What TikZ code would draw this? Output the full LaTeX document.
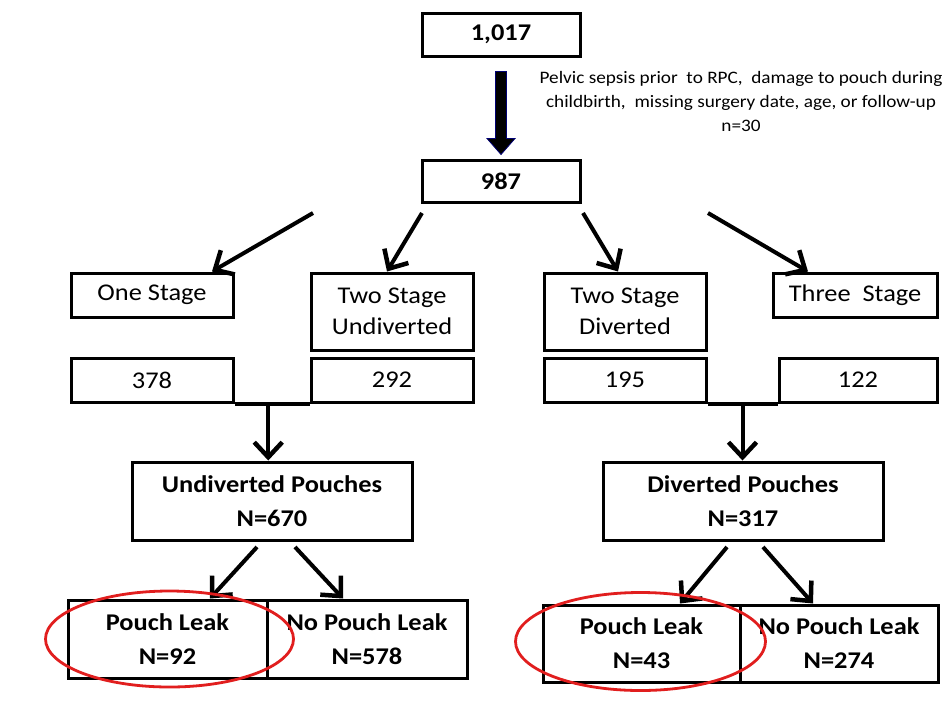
\documentclass[tikz,border=0pt]{standalone}
\usepackage{fontspec}
\setmainfont{Carlito}[FakeStretch=1.1]
\usetikzlibrary{arrows.meta,calc}
\definecolor{leakred}{RGB}{225,30,30}
\tikzset{myhead/.tip={Straight Barb[length=15pt,width=28pt,line width=4.5pt]}}
\begin{document}
\begin{tikzpicture}[x=1pt,y=-1pt,
  box/.style={draw=black,line width=3pt,inner sep=0pt,align=center,font=\fontsize{24}{31}\selectfont},
  bbox/.style={box,font=\fontsize{24}{34}\selectfont\bfseries},
  arr/.style={line width=4pt,-myhead},
  leak/.style={draw=leakred,line width=2.8pt}]
\useasboundingbox[fill=white] (0,0) rectangle (950,705);
% top
\node[bbox,minimum width=158,minimum height=43] (a) at (501,34.5) {1,017};
\node[bbox,minimum width=158,minimum height=42] (b) at (501,181) {987};
\fill[black,draw=blue!45!black,line width=0.8pt]
  ($(a.south)+(-5.5,14)$) -- ($(a.south)+(5.5,14)$) -- ($(b.north)+(5.5,-20)$)
  -- ($(b.north)+(14,-20)$) -- ($(b.north)+(0,-4)$) -- ($(b.north)+(-14,-20)$)
  -- ($(b.north)+(-5.5,-20)$) -- cycle;
\node[align=center,font=\fontsize{17.5}{24}\selectfont] (note) at (741,101)
  {Pelvic sepsis prior\ \ to RPC,\ \ damage to pouch during\\childbirth,\ \ missing surgery date, age, or follow-up\\n=30};
% stage boxes
\node[box,minimum width=162,minimum height=44] (one) at (152,295) {One Stage};
\node[box,minimum width=162,minimum height=77] (twoU) at (392,311.5) {Two Stage\\Undiverted};
\node[box,minimum width=162,minimum height=77] (twoD) at (625,311.5) {Two Stage\\Diverted};
\node[box,minimum width=164,minimum height=44] (three) at (855,295) {Three\ \ Stage};
\node[box,minimum width=162,minimum height=44] (n378) at (152,380) {378};
\node[box,minimum width=162,minimum height=44] (n292) at (392,380) {292};
\node[box,minimum width=162,minimum height=44] (n195) at (625,380) {195};
\node[box,minimum width=158,minimum height=44] (n122) at (858,380) {122};
% arrows from 987
\coordinate (s1) at (313,213);
\coordinate (s2) at (422,213);
\coordinate (s3) at (583,213);
\coordinate (s4) at (708,213);
\draw[arr] (s1) -- (one.north -| 212,0);
\draw[arr] (s2) -- (twoU.north -| 387,0);
\draw[arr] (s3) -- (twoD.north -| 618,0);
\draw[arr] (s4) -- (three.north -| 808,0);
% pouches
\node[bbox,minimum width=280,minimum height=78] (und) at (272,501) {Undiverted Pouches\\N=670};
\node[bbox,minimum width=280,minimum height=78] (div) at (743,501) {Diverted Pouches\\N=317};
% brackets
\draw[line width=4pt] (n378.south east) -- (n292.south west);
\draw[line width=4pt] (n195.south east) -- (n122.south west);
\coordinate (j1) at ($(n378.south east)!0.45!(n292.south west)$);
\coordinate (j2) at ($(n195.south east)!0.5!(n122.south west)$);
\draw[arr] (j1) -- (und.north -| j1);
\draw[arr] (j2) -- (div.north -| j2);
% leaks
\node[bbox,minimum width=199,minimum height=78] (pl1) at (167.5,639) {Pouch Leak\\N=92};
\node[bbox,minimum width=200,minimum height=78] (npl1) at (367,639) {No Pouch Leak\\N=578};
\node[bbox,minimum width=197,minimum height=77] (pl2) at (641.5,643.5) {Pouch Leak\\N=43};
\node[bbox,minimum width=198,minimum height=77] (npl2) at (839,643.5) {No Pouch Leak\\N=274};
\coordinate (u1) at (257,547);
\coordinate (u2) at (295,547);
\coordinate (d1) at (727,547);
\coordinate (d2) at (763,547);
\draw[arr] (u1) -- (pl1.north -| 210,0);
\draw[arr] (u2) -- (npl1.north -| 343,0);
\draw[arr] (d1) -- (pl2.north -| 680,0);
\draw[arr] (d2) -- (npl2.north -| 813,0);
% red ellipses
\draw[leak] (pl1.center) ++(2,0) ellipse[x radius=124,y radius=48];
\draw[leak] (pl2.center) ++(-1,-2) ellipse[x radius=125,y radius=49];
\end{tikzpicture}
\end{document}
